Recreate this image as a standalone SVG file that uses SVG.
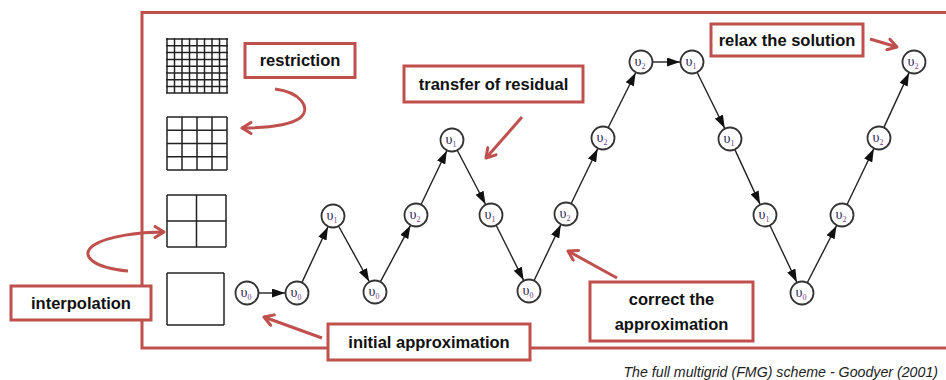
<svg xmlns="http://www.w3.org/2000/svg" width="946" height="380" viewBox="0 0 946 380">
<defs>
<marker id="ah" viewBox="0 0 13 9" refX="13" refY="4.5" markerWidth="13" markerHeight="9" markerUnits="userSpaceOnUse" orient="auto"><path d="M0,0 L13,4.5 L0,9 Z" fill="#111"/></marker>
<marker id="rh" viewBox="0 0 14 14" refX="11" refY="7" markerWidth="14" markerHeight="14" markerUnits="userSpaceOnUse" orient="auto"><path d="M2,1.5 L11,7 L2,12.5" fill="none" stroke="#c0504d" stroke-width="3" stroke-linecap="round" stroke-linejoin="round"/></marker>
</defs>
<style>
.frame{fill:none;stroke:#c0504d;stroke-width:3}
.box{fill:#fff;stroke:#c0504d;stroke-width:3}
.lbl{font-family:"Liberation Sans",Arial,sans-serif;font-weight:bold;font-size:16.5px;fill:#111;text-anchor:middle}
.cap{font-family:"Liberation Sans",Arial,sans-serif;font-style:italic;font-size:14.2px;fill:#222;text-anchor:end}
.node circle{fill:#fff;stroke:#333;stroke-width:1.8}
.nt{font-family:"Liberation Serif","Times New Roman",serif;font-size:14px;fill:#2a2a55;text-anchor:middle}
.sub{font-size:8px;fill:#7a3f8f}
.edge{stroke:#222;stroke-width:1.4;fill:none;marker-end:url(#ah)}
.rarrow{stroke:#c0504d;stroke-width:3;fill:none;marker-end:url(#rh)}
.grid line{stroke:#222;stroke-width:1.5}
</style>
<rect class="frame" x="142" y="12.5" width="820" height="335.5"/>

<g id="grid-fine" class="grid">
<line x1="167" y1="38" x2="167" y2="93"/><line x1="174.5" y1="38" x2="174.5" y2="93"/><line x1="182" y1="38" x2="182" y2="93"/><line x1="189.5" y1="38" x2="189.5" y2="93"/><line x1="197" y1="38" x2="197" y2="93"/><line x1="204.5" y1="38" x2="204.5" y2="93"/><line x1="212" y1="38" x2="212" y2="93"/><line x1="219.5" y1="38" x2="219.5" y2="93"/><line x1="227" y1="38" x2="227" y2="93"/>
<line x1="166" y1="39" x2="228" y2="39"/><line x1="166" y1="45.8" x2="228" y2="45.8"/><line x1="166" y1="52.6" x2="228" y2="52.6"/><line x1="166" y1="59.4" x2="228" y2="59.4"/><line x1="166" y1="66.2" x2="228" y2="66.2"/><line x1="166" y1="73" x2="228" y2="73"/><line x1="166" y1="79.8" x2="228" y2="79.8"/><line x1="166" y1="86.6" x2="228" y2="86.6"/><line x1="166" y1="93" x2="228" y2="93"/>
</g>
<g id="grid-4" class="grid">
<line x1="167" y1="117" x2="167" y2="170"/><line x1="182" y1="117" x2="182" y2="170"/><line x1="197" y1="117" x2="197" y2="170"/><line x1="212" y1="117" x2="212" y2="170"/><line x1="227" y1="117" x2="227" y2="170"/>
<line x1="167" y1="117" x2="227" y2="117"/><line x1="167" y1="130.2" x2="227" y2="130.2"/><line x1="167" y1="143.5" x2="227" y2="143.5"/><line x1="167" y1="156.8" x2="227" y2="156.8"/><line x1="167" y1="170" x2="227" y2="170"/>
</g>
<g id="grid-2" class="grid">
<line x1="167" y1="195" x2="167" y2="247"/><line x1="196.5" y1="195" x2="196.5" y2="247"/><line x1="226" y1="195" x2="226" y2="247"/>
<line x1="167" y1="195" x2="226" y2="195"/><line x1="167" y1="221" x2="226" y2="221"/><line x1="167" y1="247" x2="226" y2="247"/>
</g>
<g id="grid-1" class="grid">
<line x1="167" y1="273" x2="167" y2="325"/><line x1="224" y1="273" x2="224" y2="325"/>
<line x1="167" y1="273" x2="224" y2="273"/><line x1="167" y1="325" x2="224" y2="325"/>
</g>

<g id="connectors">
<line class="edge" x1="259" y1="293" x2="285" y2="293"/>
<line class="edge" x1="302.1" y1="282.1" x2="327.9" y2="226.9"/>
<line class="edge" x1="338.8" y1="226.5" x2="369.2" y2="281.5"/>
<line class="edge" x1="380.6" y1="281.4" x2="410.4" y2="225.6"/>
<line class="edge" x1="421.2" y1="204.2" x2="446.8" y2="150.8"/>
<line class="edge" x1="457.5" y1="150.7" x2="485.5" y2="204.3"/>
<line class="edge" x1="496.4" y1="225.7" x2="523.6" y2="280.3"/>
<line class="edge" x1="534.2" y1="280.2" x2="560.8" y2="224.8"/>
<line class="edge" x1="571.3" y1="203.2" x2="597.7" y2="148.8"/>
<line class="edge" x1="608.4" y1="127.3" x2="635.6" y2="72.7"/>
<line class="edge" x1="653" y1="62" x2="680" y2="62"/>
<line class="edge" x1="697.3" y1="72.8" x2="724.7" y2="128.2"/>
<line class="edge" x1="735" y1="149.9" x2="760" y2="204.1"/>
<line class="edge" x1="770.1" y1="225.8" x2="796.9" y2="282.2"/>
<line class="edge" x1="807.5" y1="282.3" x2="836.5" y2="225.7"/>
<line class="edge" x1="847.2" y1="204.2" x2="873.8" y2="148.8"/>
<line class="edge" x1="884" y1="127.1" x2="909" y2="72.9"/>
<path class="rarrow" d="M275,89 C300,92 312,108 300,118 C288,126 262,128 242,128"/>
<path class="rarrow" d="M128,271 C95,268 78,256 94,245 C108,236 140,232 164,232"/>
<line class="rarrow" x1="522" y1="117" x2="486" y2="158"/>
<line class="rarrow" x1="617" y1="278" x2="568" y2="251"/>
<line class="rarrow" x1="322" y1="338" x2="264" y2="317"/>
<line class="rarrow" x1="870" y1="39" x2="897" y2="47"/>
</g>

<g id="n1" class="node"><circle cx="247" cy="293" r="11.5"/><text class="nt" x="246" y="297">υ<tspan class="sub" dy="3">0</tspan></text></g>
<g id="n2" class="node"><circle cx="297" cy="293" r="11.5"/><text class="nt" x="296" y="297">υ<tspan class="sub" dy="3">0</tspan></text></g>
<g id="n3" class="node"><circle cx="333" cy="216" r="11.5"/><text class="nt" x="332" y="220">υ<tspan class="sub" dy="3">1</tspan></text></g>
<g id="n4" class="node"><circle cx="375" cy="292" r="11.5"/><text class="nt" x="374" y="296">υ<tspan class="sub" dy="3">0</tspan></text></g>
<g id="n5" class="node"><circle cx="416" cy="215" r="11.5"/><text class="nt" x="415" y="219">υ<tspan class="sub" dy="3">2</tspan></text></g>
<g id="n6" class="node"><circle cx="452" cy="140" r="11.5"/><text class="nt" x="451" y="144">υ<tspan class="sub" dy="3">1</tspan></text></g>
<g id="n7" class="node"><circle cx="491" cy="215" r="11.5"/><text class="nt" x="490" y="219">υ<tspan class="sub" dy="3">1</tspan></text></g>
<g id="n8" class="node"><circle cx="529" cy="291" r="11.5"/><text class="nt" x="528" y="295">υ<tspan class="sub" dy="3">0</tspan></text></g>
<g id="n9" class="node"><circle cx="566" cy="214" r="11.5"/><text class="nt" x="565" y="218">υ<tspan class="sub" dy="3">2</tspan></text></g>
<g id="n10" class="node"><circle cx="603" cy="138" r="11.5"/><text class="nt" x="602" y="142">υ<tspan class="sub" dy="3">2</tspan></text></g>
<g id="n11" class="node"><circle cx="641" cy="62" r="11.5"/><text class="nt" x="640" y="66">υ<tspan class="sub" dy="3">2</tspan></text></g>
<g id="n12" class="node"><circle cx="692" cy="62" r="11.5"/><text class="nt" x="691" y="66">υ<tspan class="sub" dy="3">1</tspan></text></g>
<g id="n13" class="node"><circle cx="730" cy="139" r="11.5"/><text class="nt" x="729" y="143">υ<tspan class="sub" dy="3">1</tspan></text></g>
<g id="n14" class="node"><circle cx="765" cy="215" r="11.5"/><text class="nt" x="764" y="219">υ<tspan class="sub" dy="3">1</tspan></text></g>
<g id="n15" class="node"><circle cx="802" cy="293" r="11.5"/><text class="nt" x="801" y="297">υ<tspan class="sub" dy="3">0</tspan></text></g>
<g id="n16" class="node"><circle cx="842" cy="215" r="11.5"/><text class="nt" x="841" y="219">υ<tspan class="sub" dy="3">2</tspan></text></g>
<g id="n17" class="node"><circle cx="879" cy="138" r="11.5"/><text class="nt" x="878" y="142">υ<tspan class="sub" dy="3">2</tspan></text></g>
<g id="n18" class="node"><circle cx="914" cy="62" r="11.5"/><text class="nt" x="913" y="66">υ<tspan class="sub" dy="3">2</tspan></text></g>

<g id="lbl-restriction"><rect class="box" x="245" y="43.5" width="110" height="34"/><text class="lbl" x="300" y="66">restriction</text></g>
<g id="lbl-transfer"><rect class="box" x="404" y="66" width="179" height="36"/><text class="lbl" x="493.5" y="90">transfer of residual</text></g>
<g id="lbl-relax"><rect class="box" x="711" y="24" width="152" height="32"/><text class="lbl" x="787" y="46">relax the solution</text></g>
<g id="lbl-correct"><rect class="box" x="590" y="282" width="163" height="59"/><text class="lbl" x="671.5" y="305">correct the</text><text class="lbl" x="671.5" y="330">approximation</text></g>
<g id="lbl-initial"><rect class="box" x="328" y="324" width="202" height="36"/><text class="lbl" x="429" y="348">initial approximation</text></g>
<g id="lbl-interp"><rect class="box" x="11" y="286" width="140" height="34"/><text class="lbl" x="81" y="309">interpolation</text></g>

<text class="cap" x="938" y="377">The full multigrid (FMG) scheme - Goodyer (2001)</text>
</svg>
